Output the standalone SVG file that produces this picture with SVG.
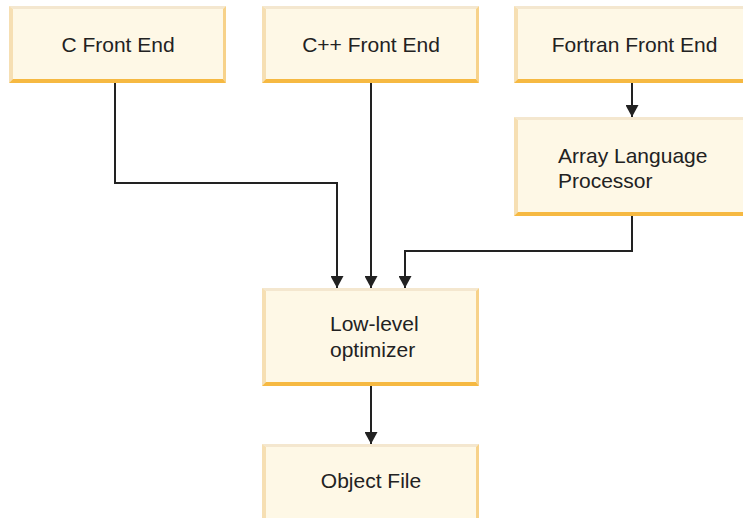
<svg xmlns="http://www.w3.org/2000/svg" width="743" height="518" viewBox="0 0 743 518">
<style>
.fill{fill:#fef8e6}
.bt{fill:#f4e7cf}
.bl{fill:#f6dfb3}
.br{fill:#f7d28a}
.bb{fill:#f6b942}
.lbl{font-family:"Liberation Sans",Arial,sans-serif;font-size:21px;fill:#222}
.c{text-anchor:middle}
.conn{fill:none;stroke:#222;stroke-width:2}
</style>
<defs>
<marker id="ah" viewBox="0 0 12 13" refX="12" refY="6.5" markerWidth="12" markerHeight="13" markerUnits="userSpaceOnUse" orient="auto">
<path d="M0,0 L12,6.5 L0,13 z" fill="#222"/>
</marker>
</defs>
<rect width="743" height="518" fill="#fff"/>
<g id="connectors">
<polyline class="conn" points="115,83 115,183 337,183 337,288" marker-end="url(#ah)"/>
<polyline class="conn" points="371,83 371,288" marker-end="url(#ah)"/>
<polyline class="conn" points="632,83 632,117" marker-end="url(#ah)"/>
<polyline class="conn" points="632,216 632,251 405,251 405,288" marker-end="url(#ah)"/>
<polyline class="conn" points="371,386 371,444" marker-end="url(#ah)"/>
</g>
<g id="c-front-end">
<rect class="fill" x="9" y="6" width="217" height="77"/>
<polygon class="bt" points="9,6 226,6 223,9 13,9"/>
<polygon class="bl" points="9,6 13,9 13,79 9,83"/>
<polygon class="br" points="226,6 226,83 223,79 223,9"/>
<polygon class="bb" points="9,83 226,83 223,79 13,79"/>
<text class="lbl c" x="118" y="52">C Front End</text>
</g>
<g id="cpp-front-end">
<rect class="fill" x="262" y="6" width="217" height="77"/>
<polygon class="bt" points="262,6 479,6 476,9 266,9"/>
<polygon class="bl" points="262,6 266,9 266,79 262,83"/>
<polygon class="br" points="479,6 479,83 476,79 476,9"/>
<polygon class="bb" points="262,83 479,83 476,79 266,79"/>
<text class="lbl c" x="371" y="52">C++ Front End</text>
</g>
<g id="fortran-front-end">
<rect class="fill" x="514" y="6" width="240" height="77"/>
<polygon class="bt" points="514,6 754,6 751,9 518,9"/>
<polygon class="bl" points="514,6 518,9 518,79 514,83"/>
<polygon class="bb" points="514,83 754,83 751,79 518,79"/>
<text class="lbl c" x="634.5" y="52">Fortran Front End</text>
</g>
<g id="array-language-processor">
<rect class="fill" x="514" y="117" width="240" height="99"/>
<polygon class="bt" points="514,117 754,117 751,120 518,120"/>
<polygon class="bl" points="514,117 518,120 518,212 514,216"/>
<polygon class="bb" points="514,216 754,216 751,212 518,212"/>
<text class="lbl" x="558" y="163">Array Language</text>
<text class="lbl" x="558" y="188">Processor</text>
</g>
<g id="low-level-optimizer">
<rect class="fill" x="262" y="288" width="217" height="98"/>
<polygon class="bt" points="262,288 479,288 476,291 266,291"/>
<polygon class="bl" points="262,288 266,291 266,382 262,386"/>
<polygon class="br" points="479,288 479,386 476,382 476,291"/>
<polygon class="bb" points="262,386 479,386 476,382 266,382"/>
<text class="lbl" x="330" y="331">Low-level</text>
<text class="lbl" x="330" y="357">optimizer</text>
</g>
<g id="object-file">
<rect class="fill" x="262" y="444" width="217" height="80"/>
<polygon class="bt" points="262,444 479,444 476,447 266,447"/>
<polygon class="bl" points="262,444 266,447 266,520 262,524"/>
<polygon class="br" points="479,444 479,524 476,520 476,447"/>
<polygon class="bb" points="262,524 479,524 476,520 266,520"/>
<text class="lbl c" x="371" y="488">Object File</text>
</g>
</svg>
